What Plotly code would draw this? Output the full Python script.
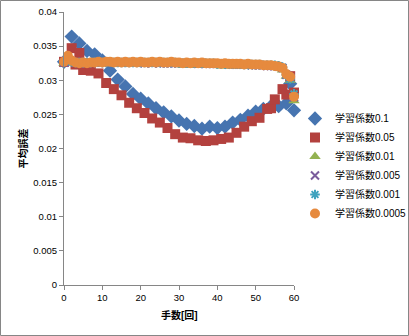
import plotly.graph_objects as go

# Learning-rate labels for each series
series_names = ["学習係数0.1", "学習係数0.05", "学習係数0.01",
                "学習係数0.005", "学習係数0.001", "学習係数0.0005"]

# 学習係数0.1
x_01 = [0, 2, 4, 6, 8, 10, 12, 14, 16, 18, 20, 22, 24, 26, 28, 30, 32, 34, 36,
        38, 40, 42, 44, 46, 48, 50, 52, 54, 56, 58, 59, 60]
y_01 = [0.0327, 0.0364, 0.0354, 0.0343, 0.0338, 0.0329, 0.0314, 0.0301, 0.0291,
        0.0280, 0.0273, 0.0266, 0.0259, 0.0253, 0.0247, 0.0241, 0.0236, 0.0233,
        0.0229, 0.0232, 0.0230, 0.0232, 0.0238, 0.0242, 0.0248, 0.0254, 0.0258,
        0.0262, 0.0262, 0.0266, 0.0295, 0.0256]

# 学習係数0.05
x_005 = [0, 2, 3, 4, 5, 7, 9, 11, 13, 15, 17, 19, 21, 23, 25, 27, 29, 31, 33, 35,
         37, 39, 41, 43, 45, 47, 49, 51, 53, 54, 55, 57, 58, 59, 60]
y_005 = [0.0327, 0.0347, 0.0323, 0.0340, 0.0315, 0.0314, 0.0310, 0.0296, 0.0287,
         0.0278, 0.0267, 0.0259, 0.0252, 0.0244, 0.0238, 0.0230, 0.0221, 0.0216,
         0.0215, 0.0212, 0.0211, 0.0212, 0.0214, 0.0216, 0.0223, 0.0232, 0.0240,
         0.0245, 0.0258, 0.0259, 0.0272, 0.0287, 0.0279, 0.0306, 0.0282]

# Move numbers 0..60 for the slowly-changing series
x_all = list(range(61))

y_001 = [0.0325, 0.0327, 0.0326, 0.0325, 0.0324, 0.0325, 0.0324, 0.0325, 0.0325,
         0.0325, 0.0325, 0.0325, 0.0325, 0.0324, 0.0325, 0.0324, 0.0325, 0.0324,
         0.0325, 0.0324, 0.0324, 0.0324, 0.0323, 0.0323, 0.0323, 0.0323, 0.0323,
         0.0323, 0.0323, 0.0323, 0.0323, 0.0322, 0.0323, 0.0322, 0.0322, 0.0322,
         0.0322, 0.0322, 0.0322, 0.0322, 0.0322, 0.0321, 0.0322, 0.0321, 0.0321,
         0.0321, 0.0321, 0.0321, 0.0321, 0.0321, 0.0320, 0.0320, 0.0320, 0.0320,
         0.0320, 0.0319, 0.0318, 0.0315, 0.0306, 0.0300, 0.0270]

y_0005 = [0.0326, 0.0329, 0.0327, 0.0326, 0.0325, 0.0326, 0.0325, 0.0326, 0.0326,
          0.0326, 0.0326, 0.0326, 0.0326, 0.0326, 0.0326, 0.0326, 0.0326, 0.0326,
          0.0326, 0.0326, 0.0326, 0.0325, 0.0326, 0.0325, 0.0326, 0.0325, 0.0325,
          0.0325, 0.0325, 0.0325, 0.0325, 0.0325, 0.0325, 0.0325, 0.0325, 0.0324,
          0.0325, 0.0324, 0.0324, 0.0324, 0.0324, 0.0324, 0.0324, 0.0323, 0.0323,
          0.0323, 0.0323, 0.0323, 0.0323, 0.0322, 0.0322, 0.0322, 0.0322, 0.0321,
          0.0321, 0.0321, 0.0320, 0.0318, 0.0308, 0.0304, 0.0275]

y_0001 = [0.0327, 0.0331, 0.0327, 0.0326, 0.0326, 0.0326, 0.0326, 0.0326, 0.0326,
          0.0327, 0.0326, 0.0326, 0.0327, 0.0326, 0.0326, 0.0326, 0.0326, 0.0326,
          0.0326, 0.0326, 0.0326, 0.0326, 0.0326, 0.0326, 0.0326, 0.0326, 0.0326,
          0.0326, 0.0326, 0.0326, 0.0325, 0.0325, 0.0325, 0.0325, 0.0325, 0.0325,
          0.0325, 0.0325, 0.0325, 0.0325, 0.0324, 0.0324, 0.0324, 0.0324, 0.0324,
          0.0324, 0.0324, 0.0323, 0.0323, 0.0323, 0.0323, 0.0323, 0.0322, 0.0322,
          0.0322, 0.0322, 0.0321, 0.0319, 0.0308, 0.0302, 0.0280]

y_00005 = [0.0327, 0.0336, 0.0329, 0.0326, 0.0325, 0.0326, 0.0325, 0.0326, 0.0326,
           0.0327, 0.0326, 0.0327, 0.0327, 0.0326, 0.0327, 0.0326, 0.0327, 0.0326,
           0.0327, 0.0326, 0.0327, 0.0326, 0.0326, 0.0327, 0.0326, 0.0327, 0.0326,
           0.0326, 0.0327, 0.0326, 0.0326, 0.0325, 0.0326, 0.0325, 0.0326, 0.0325,
           0.0326, 0.0325, 0.0325, 0.0325, 0.0325, 0.0324, 0.0325, 0.0324, 0.0324,
           0.0324, 0.0324, 0.0323, 0.0324, 0.0323, 0.0323, 0.0323, 0.0322, 0.0322,
           0.0322, 0.0321, 0.0320, 0.0318, 0.0309, 0.0305, 0.0276]

y_tickvals = [0, 0.005, 0.01, 0.015, 0.02, 0.025, 0.03, 0.035, 0.04]
y_ticktext = ["0", "0.005", "0.01", "0.015", "0.02", "0.025", "0.03", "0.035", "0.04"]
x_tickvals = [0, 10, 20, 30, 40, 50, 60]

FONT = "Liberation Sans, Noto Sans CJK JP, sans-serif"
AXIS_GREY = "#868686"

W, H = 409, 336
ML, MR, MT, MB = 64, 115, 12, 51
PW, PH = W - ML - MR, H - MT - MB

styles = [
    dict(symbol="diamond", size=11, color="#4674B0"),
    dict(symbol="square", size=10, color="#B3413E"),
    dict(symbol="triangle-up", size=10, color="#93B251"),
    dict(symbol="x-thin", size=8, color="#7A5C9C"),
    dict(symbol="asterisk", size=8, color="#40A3BE"),
    dict(symbol="circle", size=10, color="#E68A3E"),
]
data = [(x_01, y_01), (x_005, y_005), (x_all, y_001),
        (x_all, y_0005), (x_all, y_0001), (x_all, y_00005)]

fig = go.Figure()
for name, (xs, ys), st in zip(series_names, data, styles):
    marker = dict(symbol=st["symbol"], size=st["size"], color=st["color"])
    if st["symbol"] in ("x-thin", "asterisk"):
        marker["line"] = dict(color=st["color"], width=2)
    else:
        marker["line"] = dict(width=0)
    fig.add_trace(go.Scatter(x=xs, y=ys, mode="markers", name=name,
                             marker=marker, cliponaxis=False))

fig.update_layout(
    width=W, height=H,
    margin=dict(l=ML, r=MR, t=MT, b=MB, autoexpand=False),
    paper_bgcolor="white", plot_bgcolor="white",
    font=dict(family=FONT, size=9.5, color="#000000"),
    showlegend=True,
    legend=dict(x=(295 - ML) / PW, y=(285 - 104) / PH, xanchor="left", yanchor="top",
                font=dict(size=10), itemwidth=30, tracegroupgap=0,
                bgcolor="rgba(0,0,0,0)"),
    xaxis=dict(range=[0, 60], tickvals=x_tickvals, showgrid=False, zeroline=False,
               showline=True, linecolor=AXIS_GREY, linewidth=1,
               ticks="outside", ticklen=4, tickcolor=AXIS_GREY, fixedrange=True),
    yaxis=dict(range=[0, 0.04], tickvals=y_tickvals, ticktext=y_ticktext,
               showgrid=False, zeroline=False, showline=True, linecolor=AXIS_GREY,
               linewidth=1, ticks="outside", ticklen=4, tickcolor=AXIS_GREY,
               fixedrange=True),
    annotations=[
        dict(text="<b>手数[回]</b>", xref="paper", yref="paper",
             x=0.5, y=(285 - 315) / PH, xanchor="center", yanchor="middle",
             showarrow=False, font=dict(size=10)),
        dict(text="<b>平均誤差</b>", xref="paper", yref="paper",
             x=(22 - ML) / PW, y=0.5, xanchor="center", yanchor="middle",
             textangle=-90, showarrow=False, font=dict(size=10)),
    ],
    shapes=[
        dict(type="rect", xref="paper", yref="paper",
             x0=(0.5 - ML) / PW, x1=(408.5 - ML) / PW,
             y0=(285 - 335.5) / PH, y1=(285 - 0.5) / PH,
             line=dict(color=AXIS_GREY, width=1), fillcolor="rgba(0,0,0,0)",
             layer="below"),
    ],
)

fig.write_html("out.html")
